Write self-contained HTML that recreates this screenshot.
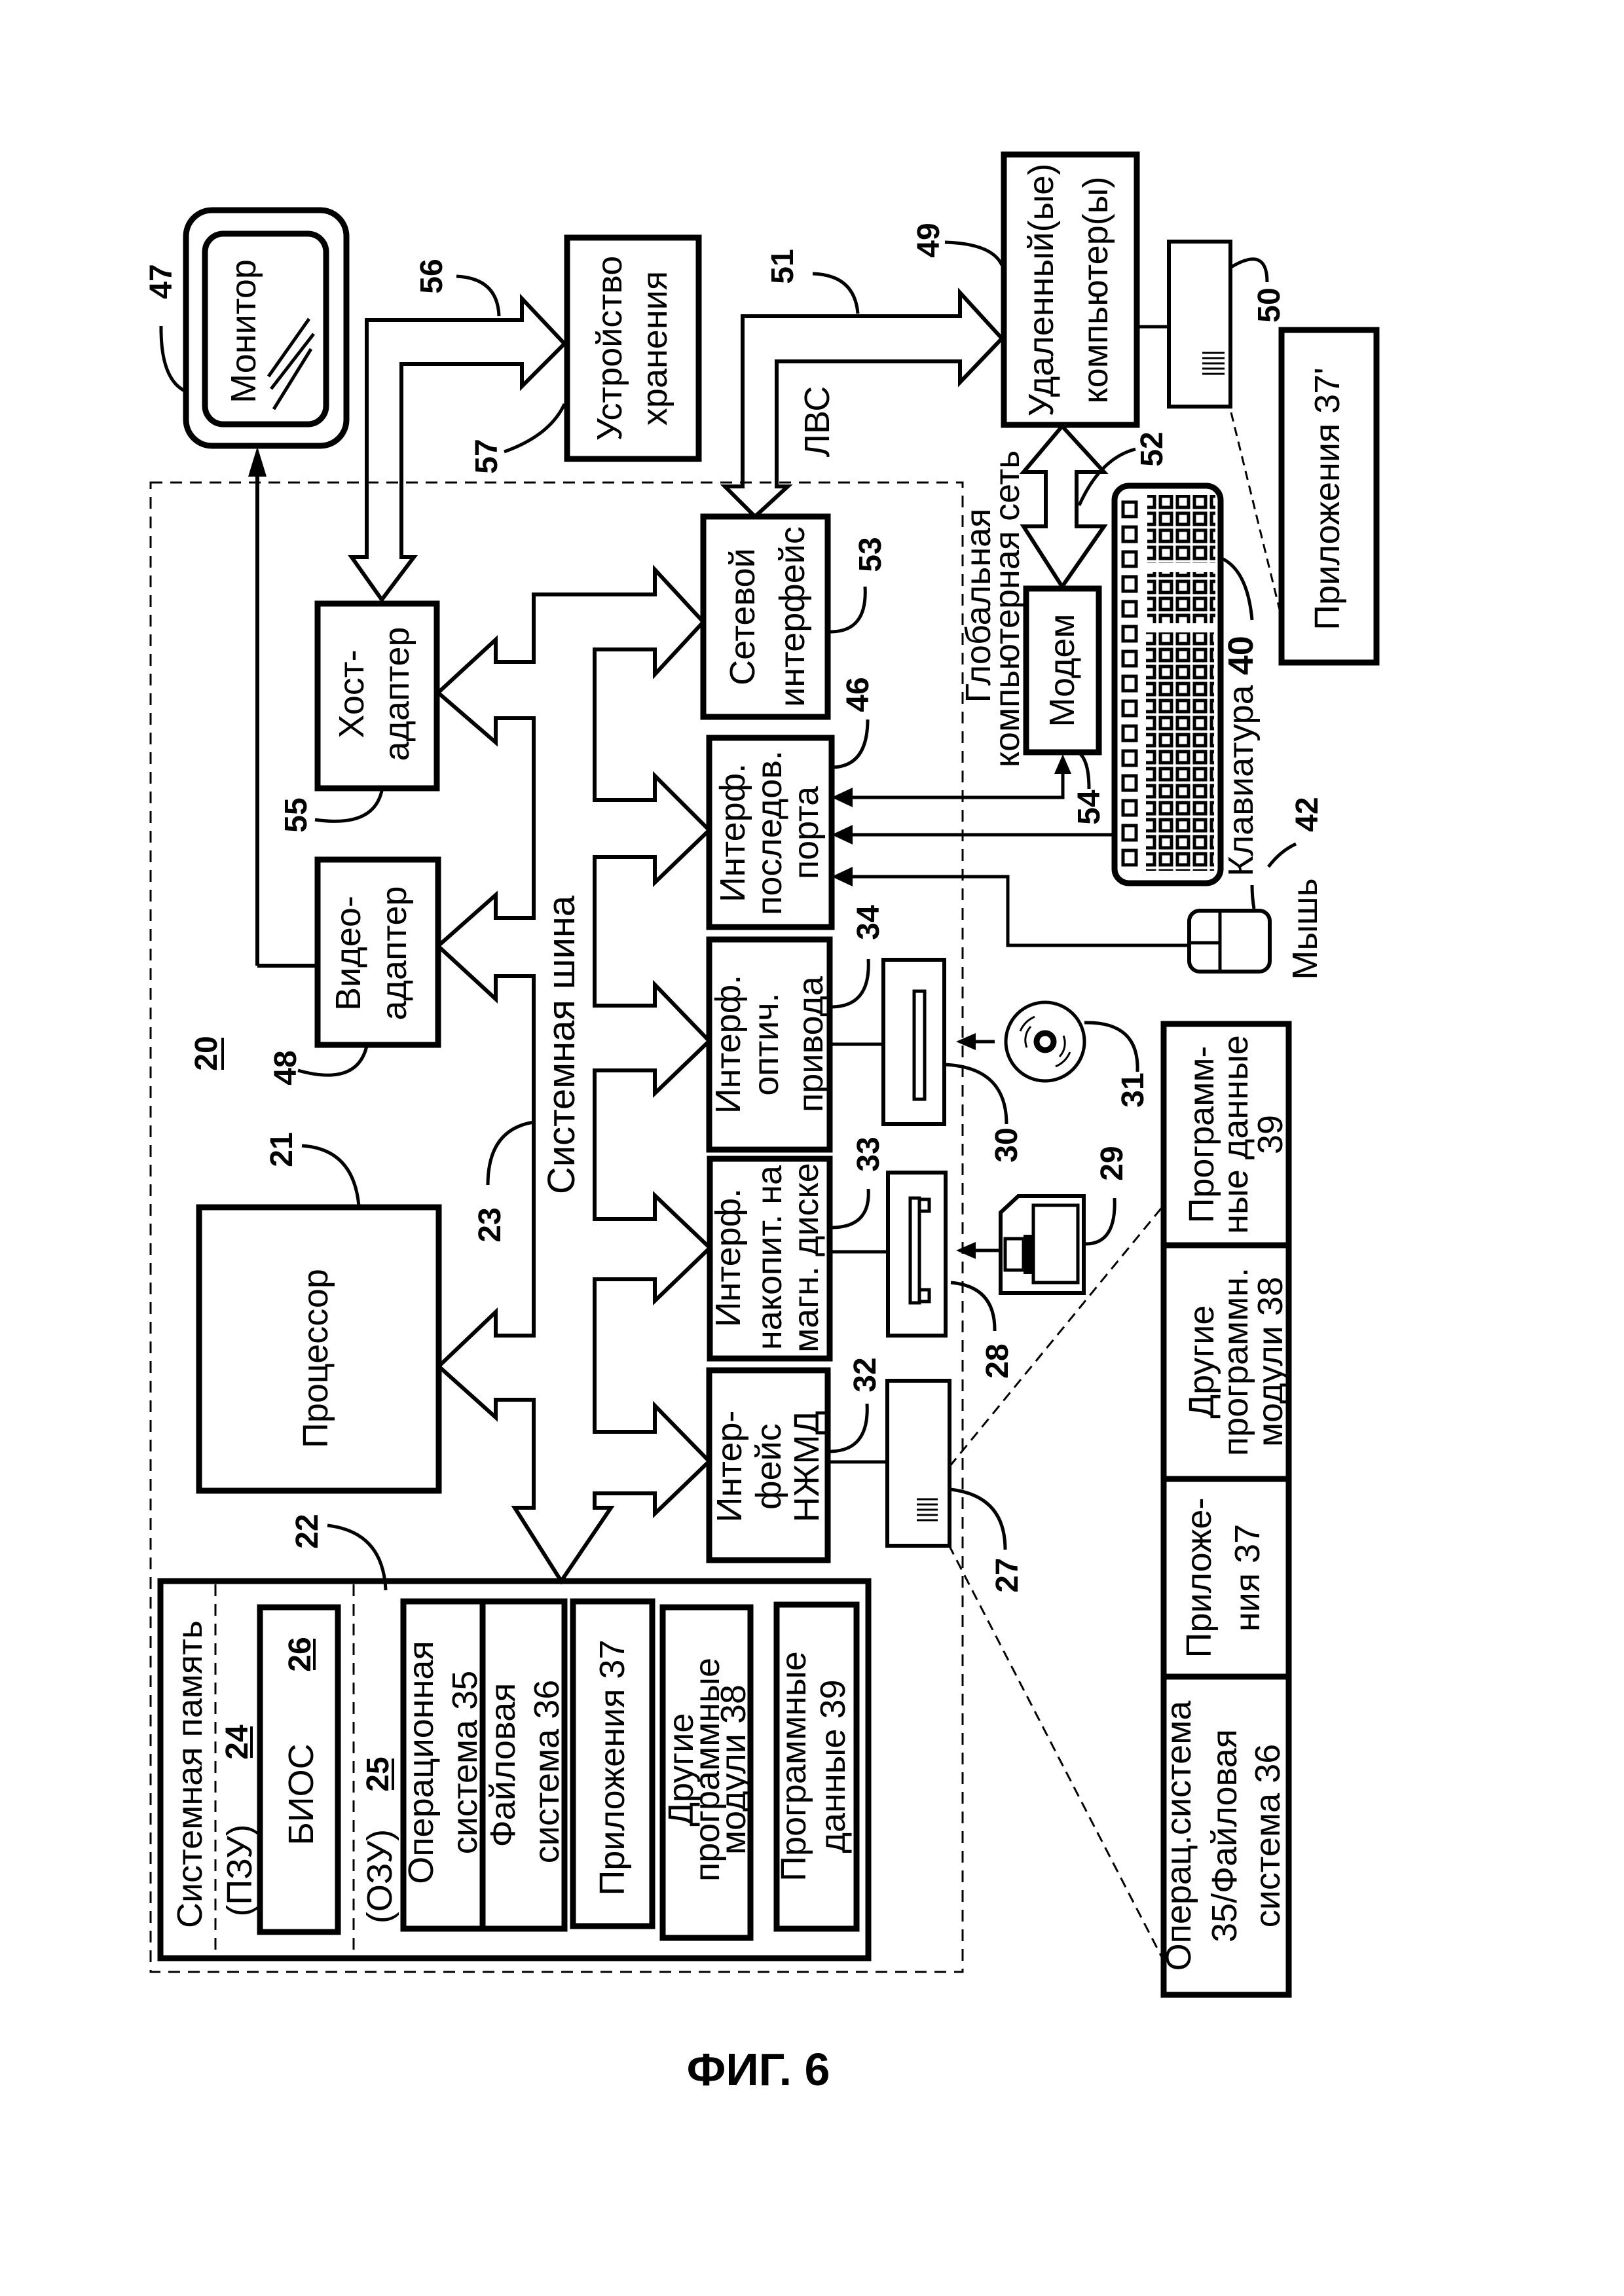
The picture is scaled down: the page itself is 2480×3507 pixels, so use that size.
<!DOCTYPE html>
<html><head><meta charset="utf-8"><style>
html,body{margin:0;padding:0;background:#fff;}
svg{display:block;}
text{font-family:"Liberation Sans","DejaVu Sans",sans-serif;fill:#000;}
.t{font-size:54px;text-anchor:middle;}
.n{font-size:48px;font-weight:bold;text-anchor:middle;}
.b{fill:none;stroke:#000;stroke-width:9;}
.m{fill:none;stroke:#000;stroke-width:6;}
.l{fill:none;stroke:#000;stroke-width:5;}
.d{fill:none;stroke:#000;stroke-width:3;stroke-dasharray:18 12;}
</style></head><body>
<svg width="2480" height="3507" viewBox="0 0 2480 3507" xmlns="http://www.w3.org/2000/svg">
<defs>
<pattern id="k1" x="0" y="0" width="26" height="26" patternUnits="userSpaceOnUse"><rect width="26" height="26" fill="#fff"/><rect x="4" y="4" width="17" height="17" fill="#fff" stroke="#000" stroke-width="5"/></pattern>
<pattern id="k2" x="0" y="0" width="30" height="38" patternUnits="userSpaceOnUse"><rect width="30" height="38" fill="#fff"/><rect x="5" y="7" width="20" height="22" fill="#fff" stroke="#000" stroke-width="5"/></pattern>
</defs>

<!-- outer dashed computer boundary -->
<rect x="230" y="737" width="1240" height="2275" class="d"/>

<!-- Monitor -->
<rect x="284" y="321" width="245" height="360" rx="40" class="b"/>
<rect x="313" y="357" width="185" height="291" rx="28" class="b"/>
<path d="M410 575 L472 487 M414 594 L479 510 M418 625 L475 533" class="l"/>
<text class="t" transform="translate(372 506) rotate(-90)" dy="18">Монитор</text>
<text class="n" transform="translate(246 430) rotate(-90)" dy="16">47</text>
<path d="M246 498 Q245 580 284 598" class="l"/>
<path d="M393 1475 L393 725 M393 1475 L485 1475" class="m"/>
<path d="M379 728 L393 682 L407 728 Z" fill="#000"/>

<!-- Storage -->
<rect x="866" y="363" width="201" height="338" class="b"/>
<text class="t" transform="translate(931 532) rotate(-90)" dy="18">Устройство</text>
<text class="t" transform="translate(1000 532) rotate(-90)" dy="18">хранения</text>
<text class="n" transform="translate(659 422) rotate(-90)" dy="16">56</text>
<path d="M697 422 Q760 425 762 483" class="l"/>
<text class="n" transform="translate(743 697) rotate(-90)" dy="16">57</text>
<path d="M770 690 Q840 665 862 617" class="l"/>
<path d="M537 851 L583 916 L632 851 L613 851 L613 556 L797 556 L797 590 L862 525 L797 456 L797 489 L560 489 L560 851 Z" class="m"/>

<!-- Host adapter -->
<rect x="485" y="922" width="182" height="282" class="b"/>
<text class="t" transform="translate(537 1060) rotate(-90)" dy="18">Хост-</text>
<text class="t" transform="translate(606 1060) rotate(-90)" dy="18">адаптер</text>
<text class="n" transform="translate(452 1245) rotate(-90)" dy="16">55</text>
<path d="M481 1252 Q570 1265 583 1208" class="l"/>

<!-- Video adapter -->
<rect x="485" y="1313" width="184" height="283" class="b"/>
<text class="t" transform="translate(532 1456) rotate(-90)" dy="18">Видео-</text>
<text class="t" transform="translate(602 1456) rotate(-90)" dy="18">адаптер</text>
<text class="n" transform="translate(436 1631) rotate(-90)" dy="16">48</text>
<path d="M455 1635 Q545 1660 560 1598" class="l"/>
<text class="n" transform="translate(315 1609) rotate(-90)" dy="16">20</text>
<path d="M340 1585 L340 1634" stroke="#000" stroke-width="4"/>

<!-- Processor -->
<rect x="304" y="1844" width="366" height="433" class="b"/>
<text class="t" transform="translate(482 2075) rotate(-90)" dy="18">Процессор</text>
<text class="n" transform="translate(430 1756) rotate(-90)" dy="16">21</text>
<path d="M461 1750 Q540 1755 548 1842" class="l"/>
<text class="n" transform="translate(748 1871) rotate(-90)" dy="16">23</text>
<path d="M745 1810 Q745 1725 815 1714" class="l"/>
<text class="t" style="font-size:58px" transform="translate(857 1596) rotate(-90)" dy="20">Системная шина</text>

<!-- System bus outline -->
<path d="M1000 908 L815 908 L815 1011 L757 1011 L757 977 L669 1058 L757 1134 L757 1097 L815 1097 L815 1402 L757 1402 L757 1367 L669 1445 L757 1526 L757 1491 L815 1491 L815 2040 L757 2040 L757 2004 L670 2087 L757 2165 L757 2138 L815 2138 L815 2303 L786 2303 L857 2415 L933 2303 L908 2303 L908 2281 L1000 2281 L1000 2312 L1083 2232 L1000 2147 L1000 2187 L908 2187 L908 1954 L1000 1954 L1000 1987 L1084 1906 L1000 1826 L1000 1862 L908 1862 L908 1635 L1000 1635 L1000 1670 L1083 1590 L1000 1504 L1000 1536 L908 1536 L908 1309 L1000 1309 L1000 1348 L1083 1268 L1000 1185 L1000 1222 L908 1222 L908 992 L1000 992 L1000 1030 L1074 950 L1000 870 Z" class="m"/>

<!-- System memory -->
<rect x="245" y="2415" width="1081" height="576" class="b"/>
<path d="M329 2420 L329 2988 M540 2420 L540 2988" class="d"/>
<text class="t" transform="translate(290 2710) rotate(-90)" dy="18">Системная память</text>
<text class="t" transform="translate(366 2857) rotate(-90)" dy="18">(ПЗУ)</text>
<text class="n" transform="translate(362 2661) rotate(-90)" dy="16">24</text>
<path d="M384 2637 L384 2685" stroke="#000" stroke-width="4"/>
<rect x="397" y="2455" width="119" height="496" class="b"/>
<text class="t" transform="translate(460 2741) rotate(-90)" dy="18">БИОС</text>
<text class="n" transform="translate(458 2527) rotate(-90)" dy="16">26</text>
<path d="M480 2503 L480 2551" stroke="#000" stroke-width="4"/>
<text class="t" transform="translate(580 2866) rotate(-90)" dy="18">(ОЗУ)</text>
<text class="n" transform="translate(577 2710) rotate(-90)" dy="16">25</text>
<path d="M600 2686 L600 2734" stroke="#000" stroke-width="4"/>
<rect x="616" y="2446" width="246" height="500" class="b"/>
<path d="M737 2446 L737 2946" class="b"/>
<text class="t" transform="translate(643 2692) rotate(-90)" dy="18">Операционная</text>
<text class="t" transform="translate(710 2692) rotate(-90)" dy="18">система 35</text>
<text class="t" transform="translate(768 2696) rotate(-90)" dy="18">Файловая</text>
<text class="t" transform="translate(835 2706) rotate(-90)" dy="18">система 36</text>
<rect x="875" y="2446" width="121" height="496" class="b"/>
<text class="t" transform="translate(935 2700) rotate(-90)" dy="18">Приложения 37</text>
<rect x="1012" y="2455" width="134" height="505" class="b"/>
<text class="t" transform="translate(1040 2703) rotate(-90)" dy="18">Другие</text>
<text class="t" transform="translate(1080 2703) rotate(-90)" dy="18">программные</text>
<text class="t" transform="translate(1120 2703) rotate(-90)" dy="18">модули 38</text>
<rect x="1186" y="2451" width="122" height="495" class="b"/>
<text class="t" transform="translate(1212 2698) rotate(-90)" dy="18">Программные</text>
<text class="t" transform="translate(1272 2698) rotate(-90)" dy="18">данные 39</text>
<text class="n" transform="translate(469 2339) rotate(-90)" dy="16">22</text>
<path d="M500 2330 Q585 2340 589 2429" class="l"/>

<!-- Interfaces -->
<rect x="1074" y="789" width="190" height="306" class="b"/>
<text class="t" transform="translate(1134 942) rotate(-90)" dy="18">Сетевой</text>
<text class="t" transform="translate(1210 942) rotate(-90)" dy="18">интерфейс</text>
<text class="n" transform="translate(1329 847) rotate(-90)" dy="16">53</text>
<path d="M1321 896 Q1325 965 1268 965" class="l"/>

<rect x="1083" y="1127" width="187" height="289" class="b"/>
<text class="t" transform="translate(1119 1272) rotate(-90)" dy="18">Интерф.</text>
<text class="t" transform="translate(1175 1272) rotate(-90)" dy="18">последов.</text>
<text class="t" transform="translate(1231 1272) rotate(-90)" dy="18">порта</text>
<text class="n" transform="translate(1310 1061) rotate(-90)" dy="16">46</text>
<path d="M1325 1099 Q1325 1170 1272 1172" class="l"/>

<rect x="1083" y="1435" width="184" height="321" class="b"/>
<text class="t" transform="translate(1112 1595) rotate(-90)" dy="18">Интерф.</text>
<text class="t" transform="translate(1170 1595) rotate(-90)" dy="18">оптич.</text>
<text class="t" transform="translate(1238 1595) rotate(-90)" dy="18">привода</text>
<text class="n" transform="translate(1326 1409) rotate(-90)" dy="16">34</text>
<path d="M1326 1465 Q1330 1538 1269 1538" class="l"/>

<rect x="1084" y="1770" width="183" height="305" class="b"/>
<text class="t" transform="translate(1112 1921) rotate(-90)" dy="18">Интерф.</text>
<text class="t" transform="translate(1175 1921) rotate(-90)" dy="18">накопит. на</text>
<text class="t" transform="translate(1231 1921) rotate(-90)" dy="18">магн. диске</text>
<text class="n" transform="translate(1326 1763) rotate(-90)" dy="16">33</text>
<path d="M1326 1816 Q1330 1875 1269 1875" class="l"/>

<rect x="1083" y="2093" width="181" height="290" class="b"/>
<text class="t" transform="translate(1114 2240) rotate(-90)" dy="18">Интер-</text>
<text class="t" transform="translate(1174 2240) rotate(-90)" dy="18">фейс</text>
<text class="t" transform="translate(1232 2240) rotate(-90)" dy="18">НЖМД</text>
<text class="n" transform="translate(1321 2100) rotate(-90)" dy="16">32</text>
<path d="M1324 2144 Q1328 2217 1266 2217" class="l"/>

<!-- Drives -->
<rect x="1349" y="1466" width="93" height="251" class="m"/>
<rect x="1396" y="1514" width="16" height="165" class="l"/>
<path d="M1267 1595 L1349 1595" class="l"/>
<text class="n" transform="translate(1537 1749) rotate(-90)" dy="16">30</text>
<path d="M1442 1626 Q1537 1630 1537 1717" class="l"/>

<rect x="1356" y="1791" width="88" height="249" class="m"/>
<rect x="1390" y="1830" width="14" height="160" class="l"/>
<rect x="1404" y="1832" width="15" height="18" class="l"/>
<rect x="1404" y="1970" width="15" height="18" class="l"/>
<path d="M1267 1912 L1356 1912" class="l"/>
<text class="n" transform="translate(1523 2079) rotate(-90)" dy="16">28</text>
<path d="M1452 1959 Q1520 1965 1519 2033" class="l"/>

<rect x="1355" y="2109" width="95" height="252" class="m"/>
<path d="M1400 2290 L1432 2290 M1400 2298 L1432 2298 M1400 2306 L1432 2306 M1400 2314 L1432 2314 M1400 2322 L1432 2322" stroke="#000" stroke-width="3"/>
<path d="M1264 2233 L1355 2233" class="l"/>
<text class="n" transform="translate(1538 2406) rotate(-90)" dy="16">27</text>
<path d="M1452 2275 Q1535 2285 1535 2367" class="l"/>

<!-- CD -->
<circle cx="1596" cy="1591" r="60" class="l"/>
<circle cx="1596" cy="1591" r="13" fill="none" stroke="#000" stroke-width="9"/>
<path d="M1558 1575 A42 42 0 0 1 1580 1553 M1634 1607 A42 42 0 0 1 1612 1629 M1568 1600 A30 30 0 0 1 1574 1568 M1624 1582 A30 30 0 0 1 1618 1614" stroke="#000" stroke-width="3" fill="none"/>
<path d="M1519 1591 L1485 1591" class="l"/>
<path d="M1490 1578 L1460 1591 L1490 1604 Z" fill="#000"/>
<text class="n" transform="translate(1730 1665) rotate(-90)" dy="16">31</text>
<path d="M1737 1637 Q1740 1560 1656 1562" class="l"/>

<!-- Floppy -->
<path d="M1555 1827 L1655 1827 L1655 1975 L1528 1975 L1528 1852 Z" class="m"/>
<rect x="1578" y="1841" width="68" height="118" class="l"/>
<rect x="1535" y="1892" width="28" height="48" class="l"/>
<rect x="1563" y="1886" width="15" height="60" fill="#000"/>
<path d="M1525 1910 L1485 1910" class="l"/>
<path d="M1490 1897 L1460 1910 L1490 1923 Z" fill="#000"/>
<text class="n" transform="translate(1698 1777) rotate(-90)" dy="16">29</text>
<path d="M1702 1830 Q1705 1900 1658 1900" class="l"/>

<!-- Bottom table -->
<rect x="1777" y="1564" width="191" height="1483" class="b"/>
<path d="M1777 1902 L1968 1902 M1777 2259 L1968 2259 M1777 2561 L1968 2561" class="b"/>
<text class="t" transform="translate(1835 1733) rotate(-90)" dy="18">Программ-</text>
<text class="t" transform="translate(1887 1733) rotate(-90)" dy="18">ные данные</text>
<text class="t" transform="translate(1940 1733) rotate(-90)" dy="18">39</text>
<text class="t" transform="translate(1835 2080) rotate(-90)" dy="18">Другие</text>
<text class="t" transform="translate(1887 2080) rotate(-90)" dy="18">программн.</text>
<text class="t" transform="translate(1940 2080) rotate(-90)" dy="18">модули 38</text>
<text class="t" transform="translate(1831 2410) rotate(-90)" dy="18">Приложе-</text>
<text class="t" transform="translate(1905 2410) rotate(-90)" dy="18">ния 37</text>
<text class="t" transform="translate(1800 2804) rotate(-90)" dy="18">Операц.система</text>
<text class="t" transform="translate(1870 2804) rotate(-90)" dy="18">35/Файловая</text>
<text class="t" transform="translate(1936 2804) rotate(-90)" dy="18">система 36</text>
<path d="M1450 2240 L1777 1841 M1449 2360 L1775 2991" class="d" style="stroke-dasharray:16 10"/>

<!-- LAN arrow -->
<path d="M1134 743 L1107 743 L1153 789 L1203 743 L1186 743 L1186 552 L1466 552 L1466 584 L1530 517 L1466 447 L1466 483 L1134 483 Z" class="m"/>
<text class="t" transform="translate(1248 644) rotate(-90)" dy="18">ЛВС</text>
<text class="n" transform="translate(1195 407) rotate(-90)" dy="16">51</text>
<path d="M1241 418 Q1305 420 1310 479" class="l"/>

<!-- Remote computer -->
<rect x="1533" y="236" width="203" height="413" class="b"/>
<text class="t" transform="translate(1590 443) rotate(-90)" dy="18">Удаленный(ые)</text>
<text class="t" transform="translate(1673 443) rotate(-90)" dy="18">компьютер(ы)</text>
<text class="n" transform="translate(1418 367) rotate(-90)" dy="16">49</text>
<path d="M1443 370 Q1515 372 1530 405" class="l"/>
<path d="M1736 499 L1785 499" class="l"/>
<rect x="1785" y="369" width="94" height="252" class="m"/>
<path d="M1836 539 L1870 539 M1836 547 L1870 547 M1836 555 L1870 555 M1836 563 L1870 563 M1836 571 L1870 571" stroke="#000" stroke-width="3"/>
<text class="n" transform="translate(1938 466) rotate(-90)" dy="16">50</text>
<path d="M1935 431 Q1935 375 1880 408" class="l"/>
<path d="M1880 630 L1954 931" class="d" style="stroke-dasharray:14 9"/>
<rect x="1957" y="504" width="145" height="508" class="b"/>
<text class="t" transform="translate(2027 762) rotate(-90)" dy="18">Приложения 37'</text>

<!-- WAN arrow -->
<path d="M1622 651 L1563 721 L1597 721 L1597 804 L1563 804 L1622 896 L1686 804 L1644 804 L1644 721 L1686 721 Z" class="m"/>
<text class="t" transform="translate(1494 925) rotate(-90)" dy="18">Глобальная</text>
<text class="t" transform="translate(1538 930) rotate(-90)" dy="18">компьютерная сеть</text>
<text class="n" transform="translate(1759 686) rotate(-90)" dy="16">52</text>
<path d="M1734 686 Q1680 700 1648 772" class="l"/>

<!-- Modem -->
<rect x="1567" y="899" width="111" height="250" class="b"/>
<text class="t" transform="translate(1622 1024) rotate(-90)" dy="18">Модем</text>
<text class="n" transform="translate(1663 1233) rotate(-90)" dy="16">54</text>
<path d="M1650 1152 Q1663 1165 1663 1205" class="l"/>

<!-- serial port connections -->
<path d="M1302 1218 L1623 1218 L1623 1180" class="l"/>
<path d="M1610 1182 L1623 1152 L1636 1182 Z" fill="#000"/>
<path d="M1302 1275 L1701 1275" class="l"/>
<path d="M1302 1339 L1539 1339 L1539 1444 L1816 1444" class="l"/>
<path d="M1302 1203 L1270 1218 L1302 1233 Z M1302 1260 L1270 1275 L1302 1290 Z M1302 1324 L1270 1339 L1302 1354 Z" fill="#000"/>

<!-- Keyboard -->
<rect x="1702" y="742" width="162" height="607" rx="22" class="b"/>
<rect x="1752" y="756" width="104" height="104" fill="url(#k1)"/>
<rect x="1752" y="874" width="104" height="78" fill="url(#k1)"/>
<rect x="1750" y="966" width="104" height="364" fill="url(#k1)"/>
<rect x="1710" y="760" width="30" height="570" fill="url(#k2)"/>
<text class="t" transform="translate(1895 1155) rotate(-90)" dy="18">Клавиатура <tspan font-weight="bold">40</tspan></text>
<path d="M1912 947 Q1905 870 1864 852" class="l"/>

<!-- Mouse -->
<rect x="1816" y="1391" width="123" height="93" rx="16" class="m"/>
<path d="M1863 1391 L1863 1484 M1816 1440 L1863 1440" class="l"/>
<text class="t" transform="translate(1993 1419) rotate(-90)" dy="18">Мышь</text>
<path d="M1915 1388 Q1912 1370 1912 1352" class="l"/>
<path d="M1937 1324 Q1955 1300 1979 1289" class="l"/>
<text class="n" transform="translate(1996 1244) rotate(-90)" dy="16">42</text>

<text x="1158" y="3185" style="font-size:70px;font-weight:bold;text-anchor:middle;">ФИГ. 6</text>
</svg>
</body></html>
